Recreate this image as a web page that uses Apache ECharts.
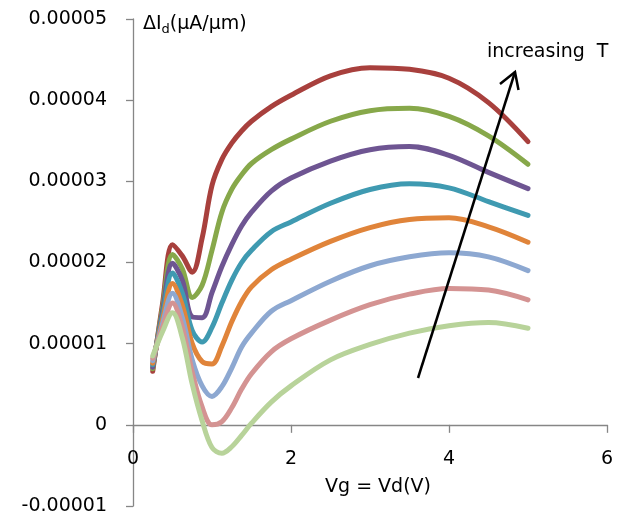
<!DOCTYPE html>
<html>
<head>
<meta charset="utf-8">
<script src="https://cdn.jsdelivr.net/npm/echarts@6/dist/echarts.min.js"></script>
<style>
    html, body {margin: 0; padding: 0; background: #fff;}
    #chart {width: 641px; height: 517px;}
</style>
</head>
<body>
<div id="chart"></div>
<script>
// Vg = Vd (V)
const vg = [0.25, 0.375, 0.5, 0.625, 0.75, 0.875, 1.0, 1.125, 1.25, 1.375, 1.5, 1.75, 2.0, 2.5, 3.0, 3.5, 4.0, 4.5, 5.0];

// delta Id, in units of 1e-5 uA/um, highest temperature first
const curve1 = [0.66, 1.50, 2.22, 2.08, 1.88, 2.30, 2.95, 3.27, 3.47, 3.62, 3.74, 3.92, 4.06, 4.30, 4.40, 4.38, 4.27, 3.97, 3.49];
const curve2 = [0.69, 1.45, 2.10, 1.92, 1.57, 1.72, 2.15, 2.62, 2.90, 3.08, 3.22, 3.39, 3.52, 3.74, 3.87, 3.90, 3.80, 3.56, 3.21];
const curve3 = [0.71, 1.40, 1.99, 1.78, 1.33, 1.32, 1.63, 1.95, 2.22, 2.45, 2.62, 2.88, 3.04, 3.25, 3.39, 3.43, 3.32, 3.11, 2.91];
const curve4 = [0.74, 1.35, 1.87, 1.62, 1.16, 1.02, 1.20, 1.50, 1.78, 2.00, 2.15, 2.38, 2.50, 2.73, 2.90, 2.97, 2.92, 2.75, 2.58];
const curve5 = [0.76, 1.30, 1.74, 1.47, 1.00, 0.78, 0.75, 0.97, 1.27, 1.52, 1.70, 1.91, 2.04, 2.26, 2.43, 2.53, 2.55, 2.44, 2.25];
const curve6 = [0.79, 1.25, 1.62, 1.32, 0.80, 0.48, 0.35, 0.47, 0.70, 0.96, 1.13, 1.40, 1.53, 1.77, 1.96, 2.07, 2.12, 2.07, 1.90];
const curve7 = [0.82, 1.20, 1.50, 1.20, 0.65, 0.22, 0.00, 0.04, 0.21, 0.44, 0.63, 0.90, 1.06, 1.29, 1.48, 1.61, 1.68, 1.66, 1.54];
const curve8 = [0.85, 1.15, 1.38, 1.07, 0.50, 0.05, -0.28, -0.35, -0.27, -0.13, 0.02, 0.28, 0.48, 0.80, 0.99, 1.13, 1.22, 1.26, 1.19];

const curves = [curve1, curve2, curve3, curve4, curve5, curve6, curve7, curve8];
const colors = ["#A8403D", "#87A84A", "#6E5592", "#3F9AB1", "#E0843A", "#8DA8D1", "#D49392", "#B8D39A"];

const yTicks = ["-0.00001", "0", "0.00001", "0.00002", "0.00003", "0.00004", "0.00005"];
const unit = 1e-5;

const font = "DejaVu Sans";
const axisGray = "#868686";

const chart = echarts.init(document.getElementById("chart"), null, {renderer: "canvas"});

chart.setOption({
    animation: false,
    grid: {left: 133, right: 34, top: 19, bottom: 11, outerBoundsMode: "none", containLabel: false},
    xAxis: {
        type: "value",
        min: 0,
        max: 6,
        interval: 2,
        axisLine: {onZero: true, lineStyle: {color: axisGray, width: 1.3}},
        axisTick: {show: true, length: 8, lineStyle: {color: axisGray, width: 1.3}},
        splitLine: {show: false},
        // labels stay at the grid bottom, pull them up under the zero line
        axisLabel: {margin: -56, color: "#000", fontSize: 19, fontFamily: font}
    },
    yAxis: {
        type: "value",
        min: -unit,
        max: 5 * unit,
        interval: unit,
        axisLine: {show: true, onZero: true, lineStyle: {color: axisGray, width: 1.3}},
        axisTick: {show: true, length: 7, lineStyle: {color: axisGray, width: 1.3}},
        splitLine: {show: false},
        axisLabel: {
            margin: 26,
            color: "#000",
            fontSize: 19,
            fontFamily: font,
            formatter: (v) => yTicks[Math.round(v / unit) + 1]
        }
    },
    series: curves.map((c, i) => ({
        type: "line",
        smooth: 0.35,
        showSymbol: false,
        data: c.map((v, j) => [vg[j], v * unit]),
        lineStyle: {color: colors[i], width: 5, cap: "round", join: "round"},
        itemStyle: {color: colors[i]},
        z: 2 + i
    })),
    graphic: [
        {
            type: "text",
            left: 143,
            top: 15,
            style: {
                text: "ΔI{sub|d}(μA/μm)",
                font: "19px DejaVu Sans",
                fill: "#000",
                rich: {sub: {fontSize: 13, fontFamily: font, verticalAlign: "bottom", padding: [10, 0, 0, 0]}}
            }
        },
        {
            type: "text",
            x: 378,
            y: 487,
            style: {text: "Vg = Vd(V)", font: "19px DejaVu Sans", fill: "#000", align: "center", verticalAlign: "middle"}
        },
        {
            type: "text",
            x: 487,
            y: 52,
            style: {text: "increasing  T", font: "19px DejaVu Sans", fill: "#000", align: "left", verticalAlign: "middle"}
        },
        {
            type: "line",
            z: 100,
            shape: {x1: 418, y1: 378, x2: 515, y2: 72},
            style: {stroke: "#000", lineWidth: 2.5}
        },
        {
            type: "polyline",
            z: 100,
            shape: {points: [[500, 84], [515, 72], [518.5, 90]]},
            style: {stroke: "#000", lineWidth: 2.5, fill: null}
        }
    ]
});
</script>
</body>
</html>
